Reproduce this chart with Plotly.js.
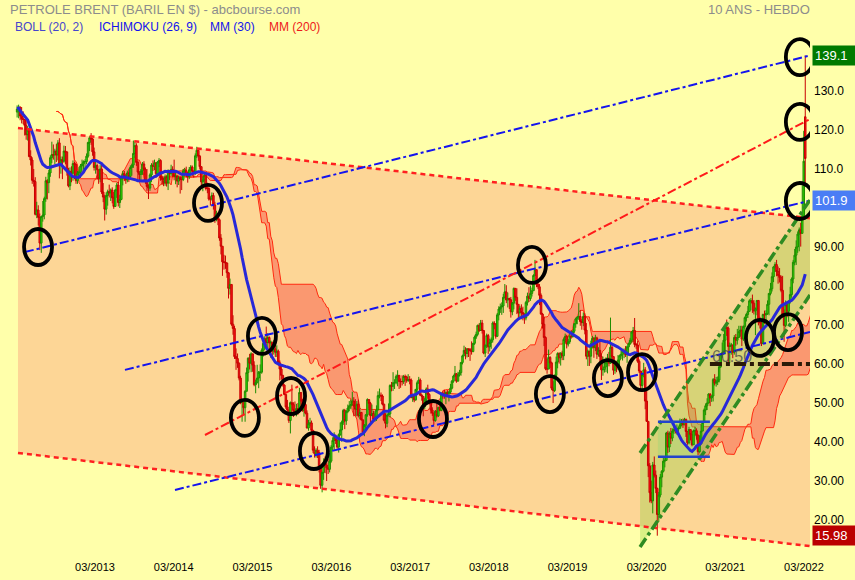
<!DOCTYPE html>
<html><head><meta charset="utf-8">
<script src="https://cdn.plot.ly/plotly-3.0.1.min.js"></script>
<style>html,body{margin:0;padding:0;background:#FFFFAA}#chart{width:855px;height:580px}</style>
</head><body><div id="chart"></div>
<script>
// ---- Weekly Brent data (weeks starting Monday 2012-03-05) ----
const firstWeek = '2012-03-05';
const firstOpen = 124.6;
const openGaps = {'2022-03-07': 123.4};
const close = [
// 2012
125.4,125.8,123.6,122.9,122.7,121.2,118.8,120.0,113.2,112.3,107.1,106.8,98.4,99.5,97.6,91.0,97.8,98.2,102.4,107.0,106.5,109.0,112.9,113.7,113.6,114.6,113.6,116.7,110.9,112.4,112.0,114.6,114.4,109.6,105.7,109.4,108.9,111.4,111.2,107.0,108.9,109.2,110.8,111.3,
// 2013
111.9,111.9,113.3,116.8,118.0,117.7,114.4,110.4,110.9,109.8,107.5,110.0,104.1,102.8,99.7,103.2,104.2,103.9,104.6,102.6,100.4,104.6,105.9,101.4,102.2,107.7,108.8,108.1,107.2,109.0,108.1,110.4,111.0,114.0,116.0,111.7,109.2,108.6,109.5,111.3,109.9,106.9,105.5,105.1,108.5,111.0,110.7,111.6,108.8,111.8,112.2,107.8,
// 2014
107.3,106.5,107.9,106.4,109.6,108.8,109.9,109.1,108.1,108.2,106.9,107.8,107.3,107.3,109.5,109.6,108.6,108.0,109.8,110.5,109.4,109.0,113.4,114.8,113.3,110.6,106.7,107.2,108.4,105.0,105.0,102.3,102.3,103.2,100.8,97.1,98.4,97.0,92.3,90.2,86.2,86.1,85.9,83.4,79.4,80.4,70.2,69.1,61.9,61.4,60.2,56.4,
// 2015
50.1,50.2,48.8,53.0,57.8,61.5,60.2,62.6,59.7,54.7,55.3,56.4,57.9,57.9,63.5,65.3,66.5,65.5,66.8,65.4,65.6,63.3,63.9,63.0,63.3,60.3,58.7,57.1,54.6,52.2,49.0,48.2,45.5,50.1,49.6,48.1,47.5,48.6,48.1,52.7,50.5,48.0,49.6,47.4,43.6,44.7,44.9,43.0,37.9,37.0,37.9,37.3,
// 2016
33.6,28.9,32.2,34.7,34.1,33.4,33.0,35.1,38.7,40.4,41.2,40.4,38.7,41.9,43.1,45.1,48.1,45.4,47.8,48.7,49.3,49.6,50.5,49.2,48.4,49.7,46.8,47.6,45.7,42.5,44.3,47.0,50.9,49.9,46.8,47.3,45.8,45.9,48.2,51.9,52.0,51.8,49.7,45.6,44.8,46.9,47.2,54.5,54.3,55.2,55.2,56.8,
// 2017
57.1,55.5,55.5,55.5,56.8,56.7,55.8,56.0,55.9,51.4,51.8,50.8,53.5,55.2,55.9,52.0,51.7,49.1,50.8,53.6,52.2,50.0,48.2,47.4,45.5,47.9,46.7,48.9,48.1,52.5,52.4,52.1,52.7,52.4,52.8,53.8,55.6,56.9,57.5,55.6,57.2,57.8,60.4,62.1,63.5,62.7,63.9,63.7,63.4,63.2,65.3,66.9,
// 2018
67.6,69.9,68.6,70.5,68.6,62.8,64.8,67.3,64.4,65.5,66.2,70.5,70.3,67.1,72.6,74.1,74.6,74.9,77.1,78.5,76.4,76.8,76.5,73.4,75.6,79.4,77.1,75.3,73.1,74.3,73.2,72.8,71.8,75.8,77.4,76.8,78.1,78.8,82.7,84.2,80.4,79.8,77.6,72.8,70.2,66.8,58.8,58.7,61.7,60.3,53.8,53.2,57.1,
// 2019
60.5,62.7,61.6,62.8,62.1,66.3,67.1,65.1,65.7,67.2,67.0,68.4,70.3,71.6,72.0,72.2,70.9,70.6,72.2,68.7,62.0,63.3,62.0,65.2,66.6,64.2,66.7,62.5,63.5,61.9,58.5,58.6,59.3,60.4,61.5,60.2,64.3,61.9,58.4,60.5,59.4,61.0,62.1,62.5,63.3,63.4,62.4,64.4,65.2,66.1,68.2,68.6,
// 2020
65.0,64.9,60.7,58.2,54.5,57.3,58.5,50.5,45.3,33.9,27.0,24.9,34.1,31.5,28.1,21.4,26.4,31.0,32.5,35.1,35.3,42.3,38.7,42.2,41.0,42.8,43.2,43.1,43.3,43.5,44.4,44.8,44.4,45.8,42.7,39.8,43.2,41.9,39.3,42.9,42.9,41.8,37.5,39.5,42.8,45.0,48.2,49.3,50.0,52.3,51.3,51.8,
// 2021
56.0,55.1,55.4,55.9,59.3,62.4,62.9,66.1,69.4,69.2,64.5,64.6,64.9,63.0,66.8,66.1,66.8,68.3,68.7,66.4,69.6,71.9,72.7,73.5,76.2,76.2,75.6,73.6,74.1,76.3,70.7,70.6,65.2,72.7,72.6,72.9,75.3,78.1,79.3,82.4,84.9,85.5,83.7,82.7,82.2,78.9,72.7,69.9,75.2,73.5,76.1,77.8,
// 2022
81.8,86.1,87.9,90.0,93.3,94.4,93.5,97.9,112.0,112.7
];
const high = [
126.3,126.5,126.1,125.9,124.8,122.8,122.5,121.0,120.4,114.8,113.0,110.0,107.9,101.6,100.7,98.6,97.9,101.8,102.9,108.0,107.4,109.8,113.5,117.0,116.3,115.2,116.4,117.4,117.9,113.2,113.2,116.0,115.9,113.5,110.3,110.4,110.7,112.2,111.8,111.3,109.5,110.5,111.3,112.4,
112.2,112.5,114.0,117.0,118.4,119.2,118.0,115.5,111.8,111.4,109.7,111.0,111.3,106.4,103.4,104.0,104.7,106.0,105.0,105.3,104.1,104.9,106.5,106.7,103.4,108.0,109.5,109.5,108.6,109.6,110.1,110.9,111.4,117.3,117.0,116.6,112.0,109.4,110.0,111.8,112.0,110.4,110.0,106.0,108.9,111.5,112.2,112.4,110.8,112.0,112.8,112.5,
108.3,107.8,108.6,108.4,109.9,109.7,111.1,110.7,112.4,109.3,108.4,108.3,108.1,108.0,110.0,110.3,110.6,109.2,110.5,111.0,110.9,109.7,114.0,115.7,115.0,113.6,110.7,108.0,108.9,108.5,106.5,105.8,103.0,104.0,103.9,101.6,99.3,98.8,97.3,93.3,90.2,88.0,87.8,86.0,83.6,81.9,80.4,72.5,69.8,64.0,62.7,60.4,
57.0,51.0,50.2,53.3,59.1,61.7,62.6,63.0,62.3,60.7,56.0,59.8,58.2,59.9,64.0,65.9,67.1,69.6,67.9,67.1,66.0,65.2,66.1,65.1,64.8,63.7,60.9,59.6,57.2,54.8,50.7,50.8,48.2,50.4,54.7,50.2,50.4,49.8,50.0,53.9,51.7,51.1,50.3,50.9,48.1,45.7,46.2,45.5,42.6,38.9,38.4,38.9,
38.0,32.3,32.4,35.8,36.3,34.6,35.6,37.2,39.2,41.2,42.5,41.9,40.6,42.2,45.0,45.5,48.5,48.5,48.2,49.6,50.5,50.9,52.9,51.5,51.0,50.5,50.9,48.6,47.7,45.5,44.6,47.2,51.2,50.8,50.3,49.6,48.0,47.9,49.4,53.0,53.7,52.7,52.2,49.8,47.4,47.5,49.9,54.8,55.4,57.9,56.1,57.3,
58.4,57.0,56.3,57.1,57.2,57.3,57.0,57.4,56.9,56.3,52.4,52.0,53.6,55.7,56.7,56.3,52.3,51.5,51.3,54.0,54.7,52.5,50.5,48.9,47.4,48.2,49.8,49.0,50.0,52.7,53.0,53.4,53.0,53.3,53.1,54.9,55.9,57.2,59.5,57.7,58.0,58.5,60.5,62.4,64.7,64.3,64.1,64.0,64.1,65.8,65.4,67.3,
68.3,70.1,70.4,71.3,71.3,68.7,65.0,67.8,67.7,66.5,66.8,70.9,71.0,69.7,73.1,74.8,75.5,75.8,78.0,80.5,80.2,78.3,77.0,77.2,75.9,79.6,79.4,79.4,75.3,74.9,75.3,74.7,73.0,76.2,78.3,79.7,80.1,79.6,83.0,86.7,84.2,81.4,80.5,78.1,73.1,72.2,67.1,61.3,63.7,62.0,60.6,55.6,57.3,
61.9,63.0,63.0,63.0,63.4,66.8,67.8,67.5,66.4,68.1,68.7,68.6,70.5,71.9,72.3,75.6,73.8,71.5,73.2,73.0,70.5,63.7,63.0,66.0,67.2,66.9,67.5,67.0,64.3,65.7,62.7,61.9,61.0,61.7,62.6,63.1,71.9,65.0,62.0,61.0,60.7,62.3,62.4,63.5,63.6,64.0,64.6,64.7,65.5,66.7,68.4,69.5,
71.8,65.4,66.0,61.2,56.4,57.7,60.3,59.2,53.9,39.8,34.6,30.1,34.9,36.3,32.7,28.3,27.2,31.8,32.8,36.4,36.2,42.6,42.9,42.7,43.6,43.5,43.9,44.0,44.5,44.0,46.0,45.9,46.0,46.2,46.0,42.8,43.9,43.2,42.8,43.2,43.9,43.5,41.8,41.7,44.5,45.2,48.6,49.9,51.2,52.5,52.5,51.9,
56.4,57.4,56.7,56.8,59.8,62.8,65.5,67.7,69.6,71.4,69.6,65.5,65.4,64.9,67.4,67.7,69.0,69.8,69.8,69.8,69.9,72.2,73.1,74.9,76.6,76.9,77.8,76.4,74.5,76.4,75.4,72.1,71.6,72.9,73.7,73.8,76.3,78.2,80.8,83.5,85.1,86.1,86.7,85.0,84.6,82.7,82.6,74.0,76.3,76.0,76.3,79.8,
82.2,86.7,89.5,91.7,94.0,95.0,96.2,105.8,119.8,139.1
];
const low = [
123.2,123.0,122.5,121.7,121.5,118.6,117.5,117.3,113.0,110.9,106.2,105.5,98.1,97.4,95.5,89.2,88.5,96.5,97.1,101.6,102.2,103.8,108.0,111.5,112.4,111.2,111.8,112.2,107.6,108.8,107.4,111.6,111.2,108.3,105.3,104.6,106.6,107.0,107.4,106.2,106.2,107.6,107.7,109.5,
109.8,109.6,111.2,112.9,114.6,116.2,113.4,109.6,108.8,107.3,106.2,106.6,103.6,101.5,96.8,98.3,100.6,102.7,101.8,101.2,99.8,100.8,102.6,100.4,100.0,102.0,105.8,106.9,106.2,106.6,106.7,107.4,108.3,110.3,113.0,110.8,107.4,106.7,106.7,108.5,108.5,106.2,104.4,102.3,104.4,106.7,109.5,109.7,107.8,108.2,110.5,107.0,
105.9,105.6,105.7,105.5,104.6,107.2,108.2,108.0,107.1,106.1,105.3,105.9,103.7,104.6,106.9,108.3,107.8,106.5,107.4,108.8,108.2,107.8,108.5,112.8,112.1,109.9,105.9,104.3,105.5,104.5,103.8,101.9,100.6,101.9,99.6,96.2,96.6,95.6,91.6,88.1,82.6,84.2,84.4,82.1,76.8,77.8,69.8,67.5,61.3,58.5,59.0,55.8,
49.7,45.2,47.2,45.2,53.0,55.5,58.6,57.9,58.0,54.3,52.5,55.0,53.8,55.6,57.5,61.9,63.5,64.8,63.6,63.5,61.6,61.5,62.4,61.8,61.8,59.6,55.8,56.0,54.2,52.0,48.5,47.8,44.9,42.2,47.4,46.4,46.9,46.6,47.0,48.4,48.9,47.8,46.5,47.1,43.5,42.9,44.0,42.5,37.2,36.0,36.0,35.9,
32.2,28.0,27.1,30.3,32.0,30.0,31.8,32.2,34.7,37.9,37.7,39.5,38.3,37.3,41.6,40.1,44.4,43.3,44.4,47.4,47.9,48.4,49.3,46.6,46.7,46.6,46.3,45.8,45.5,41.9,41.5,43.0,46.5,48.5,45.0,46.6,45.1,45.2,45.4,48.2,51.2,50.5,49.4,45.3,43.5,43.8,46.8,46.3,53.0,53.1,53.6,54.8,
54.3,53.6,53.9,54.5,54.9,54.4,55.2,55.4,54.8,51.2,50.3,50.2,50.6,52.8,54.9,51.8,50.6,46.6,48.4,50.4,51.1,49.6,47.3,46.7,44.4,45.2,46.3,46.4,47.9,47.9,51.1,51.1,49.7,51.5,50.4,52.3,53.5,55.2,56.8,55.2,55.6,56.8,57.0,59.9,62.1,61.2,61.7,61.8,60.8,62.4,63.0,64.9,
66.4,67.2,68.2,68.6,67.8,62.5,61.8,64.1,62.6,63.2,63.9,65.5,68.9,66.5,67.0,71.2,73.1,72.6,73.1,76.8,75.6,74.5,74.1,71.9,72.5,74.0,76.2,72.8,71.3,71.9,71.5,71.2,70.3,71.2,75.0,75.9,76.2,77.3,79.0,82.9,79.7,79.2,75.1,72.6,69.1,64.6,58.4,57.5,58.9,59.0,53.3,50.0,52.8,
56.2,58.9,60.1,59.6,61.0,61.0,65.6,64.0,64.5,65.2,66.5,66.8,67.9,69.3,70.2,71.3,69.8,68.8,69.7,67.6,61.2,59.5,59.5,60.2,64.0,61.6,63.3,61.3,61.9,60.0,55.9,57.0,57.8,57.9,57.6,59.4,60.0,61.2,57.2,57.5,57.9,58.5,58.4,61.3,60.9,61.5,61.8,60.3,62.8,64.9,65.5,65.6,
64.3,63.9,60.3,57.7,53.1,53.6,56.6,48.4,45.2,31.0,24.5,24.3,21.7,30.9,26.9,15.98,19.5,25.8,28.4,32.2,33.5,35.2,37.2,37.4,39.5,40.2,42.1,42.2,41.9,42.2,43.5,44.0,43.6,44.6,41.3,39.3,39.4,40.4,38.9,39.3,41.5,40.6,36.6,37.3,39.4,42.8,45.0,46.9,48.2,49.9,49.2,50.3,
50.4,54.5,54.2,54.6,55.3,59.0,61.6,62.3,62.5,67.2,60.5,60.3,62.4,61.5,62.4,64.7,65.0,66.8,67.0,64.6,65.9,68.9,70.9,71.8,73.7,73.8,73.1,72.7,67.4,72.5,69.9,69.1,64.6,65.3,70.3,70.7,72.6,72.5,77.6,78.6,81.0,83.6,82.5,80.6,80.9,78.4,72.2,65.7,69.4,72.0,70.8,75.5,
77.0,80.7,85.3,85.4,88.5,88.9,90.1,94.0,97.8,105.6
];

// ---- Analyst drawings (date, price) ----
const channelTop = [['2012-03-09',120.5],['2022-03-29',97.4]];
const channelBottom = [['2012-03-09',37.2],['2022-03-29',13.3]];
const blueLines = [
  [['2012-04-10',88.7],['2022-03-29',139.1]],
  [['2013-07-18',58.5],['2022-03-29',101.9]],
  [['2014-03-07',27.7],['2022-03-29',68.2]]
];
const redLine = [['2014-07-24',41.8],['2022-03-29',122.8]];
const greenUpper = [['2020-01-31',37.2],['2022-03-29',102.1]];
const greenLower = [['2020-01-31',13.1],['2022-03-29',77.7]];
const boxDates = ['2020-04-23','2020-12-20'];
const boxLevels = [36.2, 45.2];
const supportLine = [['2020-12-20',60.0],['2022-03-29',60.0]];
const supportLabel = ['2021-04-01', 61.8, '60.50'];
const circles = [
  ['2012-06-10',90.0],['2014-08-07',101.3],['2015-04-14',67.2],['2015-01-25',46.2],
  ['2015-08-27',51.8],['2015-12-11',37.7],['2017-06-15',45.9],['2018-09-17',85.4],
  ['2018-12-09',52.3],['2019-09-04',56.4],['2020-02-09',57.9],['2021-08-09',66.7],
  ['2021-12-17',68.2],['2022-02-10',138.7],['2022-02-10',122.1],['2022-02-10',101.8]
];
const priceTags = [[139.1,'139.1','#007A00'],[101.9,'101.9','#4A7DF5'],[15.98,'15.98','#BB0000']];
const yTickVals = [20,30,40,50,60,70,80,90,110,120,130,140];
const yTickText = ['20.00','30.00','40.00','50.00','60.00','70.00','80.00','90.00','110.0','120.0','130.0','140.0'];
const xTickVals = ['2013-03-01','2014-03-01','2015-03-01','2016-03-01','2017-03-01','2018-03-01','2019-03-01','2020-03-01','2021-03-01','2022-03-01'];
const xTickText = ['03/2013','03/2014','03/2015','03/2016','03/2017','03/2018','03/2019','03/2020','03/2021','03/2022'];

// ---- derived ----
const t0 = Date.parse(firstWeek + 'T00:00:00Z');
const wk = 7*86400000;
const iso = t => new Date(t).toISOString().slice(0,10);
const dates = close.map((_, i) => iso(t0 + i*wk));
const open = close.map((c, i) => (openGaps[dates[i]] !== undefined ? openGaps[dates[i]] : (i === 0 ? firstOpen : close[i-1])));
const hi = high.map((h, i) => Math.max(h, open[i], close[i]));
const lo = low.map((l, i) => Math.min(l, open[i], close[i]));

const mm30 = close.map((c, i) => { const s = Math.max(0, i-29); let sum = 0; for (let k = s; k <= i; k++) sum += close[k]; return sum/(i-s+1); });
function mid(n, i) { const s = Math.max(0, i-n+1); let h = -Infinity, l = Infinity; for (let k = s; k <= i; k++) { h = Math.max(h, hi[k]); l = Math.min(l, lo[k]); } return (h+l)/2; }
const spanA = close.map((_, i) => (mid(9, i) + mid(26, i))/2);
const spanB = close.map((_, i) => mid(52, i));
const cloudDates = close.map((_, i) => iso(t0 + (i+26)*wk));

const font = 'Liberation Sans, Arial, sans-serif';
const poly = (pts, fillcolor) => ({type:'scatter', xaxis:'x', yaxis:'y', x:pts.map(p => p[0]), y:pts.map(p => p[1]),
  fill:'toself', fillcolor, line:{width:0}, mode:'lines', hoverinfo:'skip'});
const traces = [
  // base subplot: fills and cloud
  poly([channelBottom[0], channelBottom[1], channelTop[1], channelTop[0]], '#FDD696'),
  {type:'scatter', x:cloudDates, y:spanB, mode:'lines', line:{color:'#FF2a10', width:1}, hoverinfo:'skip'},
  {type:'scatter', x:cloudDates, y:spanA, mode:'lines', line:{color:'#FF2a10', width:1}, fill:'tonexty', fillcolor:'#FA9870', hoverinfo:'skip'},
  poly([greenUpper[0], greenUpper[1], greenLower[1], greenLower[0]], 'rgba(130,205,50,0.30)'),
  poly([[boxDates[0], boxLevels[0]], [boxDates[1], boxLevels[0]], [boxDates[1], boxLevels[1]], [boxDates[0], boxLevels[1]]], 'rgba(120,215,120,0.25)'),
  // overlay subplot: candles and MM30
  {type:'candlestick', xaxis:'x2', yaxis:'y2', x:dates, open:open, high:hi, low:lo, close:close, whiskerwidth:0,
   increasing:{line:{color:'#1E8C00', width:1}, fillcolor:'#33E600'},
   decreasing:{line:{color:'#C80000', width:1}, fillcolor:'#FF1414'}, hoverinfo:'skip'},
  {type:'scatter', xaxis:'x2', yaxis:'y2', x:dates, y:mm30, mode:'lines', line:{color:'#2828D8', width:3}, hoverinfo:'skip'}
];

const line = (p, color, width, dash) => ({type:'line', xref:'x', yref:'y', x0:p[0][0], y0:p[0][1], x1:p[1][0], y1:p[1][1], line:{color, width, dash}, layer:'above'});
const shapes = [
  line(channelTop, '#FF2020', 2.5, '5px,4px'),
  line(channelBottom, '#FF2020', 2.5, '5px,4px'),
  ...blueLines.map(p => line(p, '#1414EE', 2, 'dashdot')),
  line(redLine, '#FF1A1A', 2, 'dashdot'),
  line(greenUpper, '#2E8B22', 3.5, 'dashdot'),
  line(greenLower, '#2E8B22', 3.5, 'dashdot'),
  line([[boxDates[0], boxLevels[1]],[boxDates[1], boxLevels[1]]], '#2244CC', 2.5, 'solid'),
  line([[boxDates[0], boxLevels[0]],[boxDates[1], boxLevels[0]]], '#2244CC', 2.5, 'solid'),
  line(supportLine, '#2A1A08', 4, 'dashdot'),
  ...circles.map(c => ({type:'circle', xref:'x', yref:'y', xsizemode:'pixel', ysizemode:'pixel', xanchor:c[0], yanchor:c[1],
     x0:-14, x1:14, y0:-18, y1:18, line:{color:'#000000', width:3.8}, layer:'above'}))
];

// plot area: x 10..810, y 15..555
const px = v => (v-10)/800, py = v => (555-v)/540;
const annotations = [
  {xref:'paper', yref:'paper', x:px(8), y:py(9), xanchor:'left', yanchor:'middle', showarrow:false, text:'PETROLE BRENT (BARIL EN $) - abcbourse.com', font:{family:font, size:13, color:'#8C8C8C'}},
  {xref:'paper', yref:'paper', x:px(812), y:py(9), xanchor:'right', yanchor:'middle', showarrow:false, text:'10 ANS - HEBDO', font:{family:font, size:13, color:'#8C8C8C'}},
  {xref:'paper', yref:'paper', x:px(13), y:py(27), xanchor:'left', yanchor:'middle', showarrow:false, text:'BOLL (20, 2)', font:{family:font, size:12, color:'#4646CC'}},
  {xref:'paper', yref:'paper', x:px(97), y:py(27), xanchor:'left', yanchor:'middle', showarrow:false, text:'ICHIMOKU (26, 9)', font:{family:font, size:12, color:'#1212EE'}},
  {xref:'paper', yref:'paper', x:px(208), y:py(27), xanchor:'left', yanchor:'middle', showarrow:false, text:'MM (30)', font:{family:font, size:12, color:'#1212EE'}},
  {xref:'paper', yref:'paper', x:px(267), y:py(27), xanchor:'left', yanchor:'middle', showarrow:false, text:'MM (200)', font:{family:font, size:12, color:'#EE1A1A'}},
  {xref:'x', yref:'y', x:supportLabel[0], y:supportLabel[1], showarrow:false, text:supportLabel[2], font:{family:font, size:16, color:'rgba(70,70,70,0.75)'}},
  ...priceTags.map(t => ({xref:'paper', yref:'y', x:1, y:t[0], xanchor:'left', yanchor:'middle', xshift:2, showarrow:false,
     text:t[1], bgcolor:t[2], width:38, align:'left', borderpad:2, font:{family:font, size:13, color:'#FFFFFF'}}))
];

const xRange = ['2012-02-01','2022-03-29'];
const yRange = [11.03, 149.49];
const layout = {
  width:855, height:580, margin:{l:10, r:45, t:15, b:25},
  paper_bgcolor:'#FFFFAA', plot_bgcolor:'#FFFFAA', showlegend:false, hovermode:false, boxgap:0, boxgroupgap:0,
  xaxis:{type:'date', range:xRange, rangeslider:{visible:false}, showgrid:false, zeroline:false, showline:false,
         tickvals:xTickVals, ticktext:xTickText, ticks:'', ticklabelstandoff:4, tickfont:{family:font, size:11, color:'#000000'}},
  yaxis:{range:yRange, side:'right', showgrid:false, zeroline:false, showline:false, ticks:'',
         tickvals:yTickVals, ticktext:yTickText, ticklabelstandoff:3, tickfont:{family:font, size:12, color:'#000000'}},
  xaxis2:{type:'date', overlaying:'x', range:xRange, visible:false, rangeslider:{visible:false}, showgrid:false, zeroline:false},
  yaxis2:{overlaying:'y', range:yRange, visible:false, showgrid:false, zeroline:false},
  shapes, annotations
};
Plotly.newPlot('chart', traces, layout, {displayModeBar:false, staticPlot:true});
</script></body></html>
